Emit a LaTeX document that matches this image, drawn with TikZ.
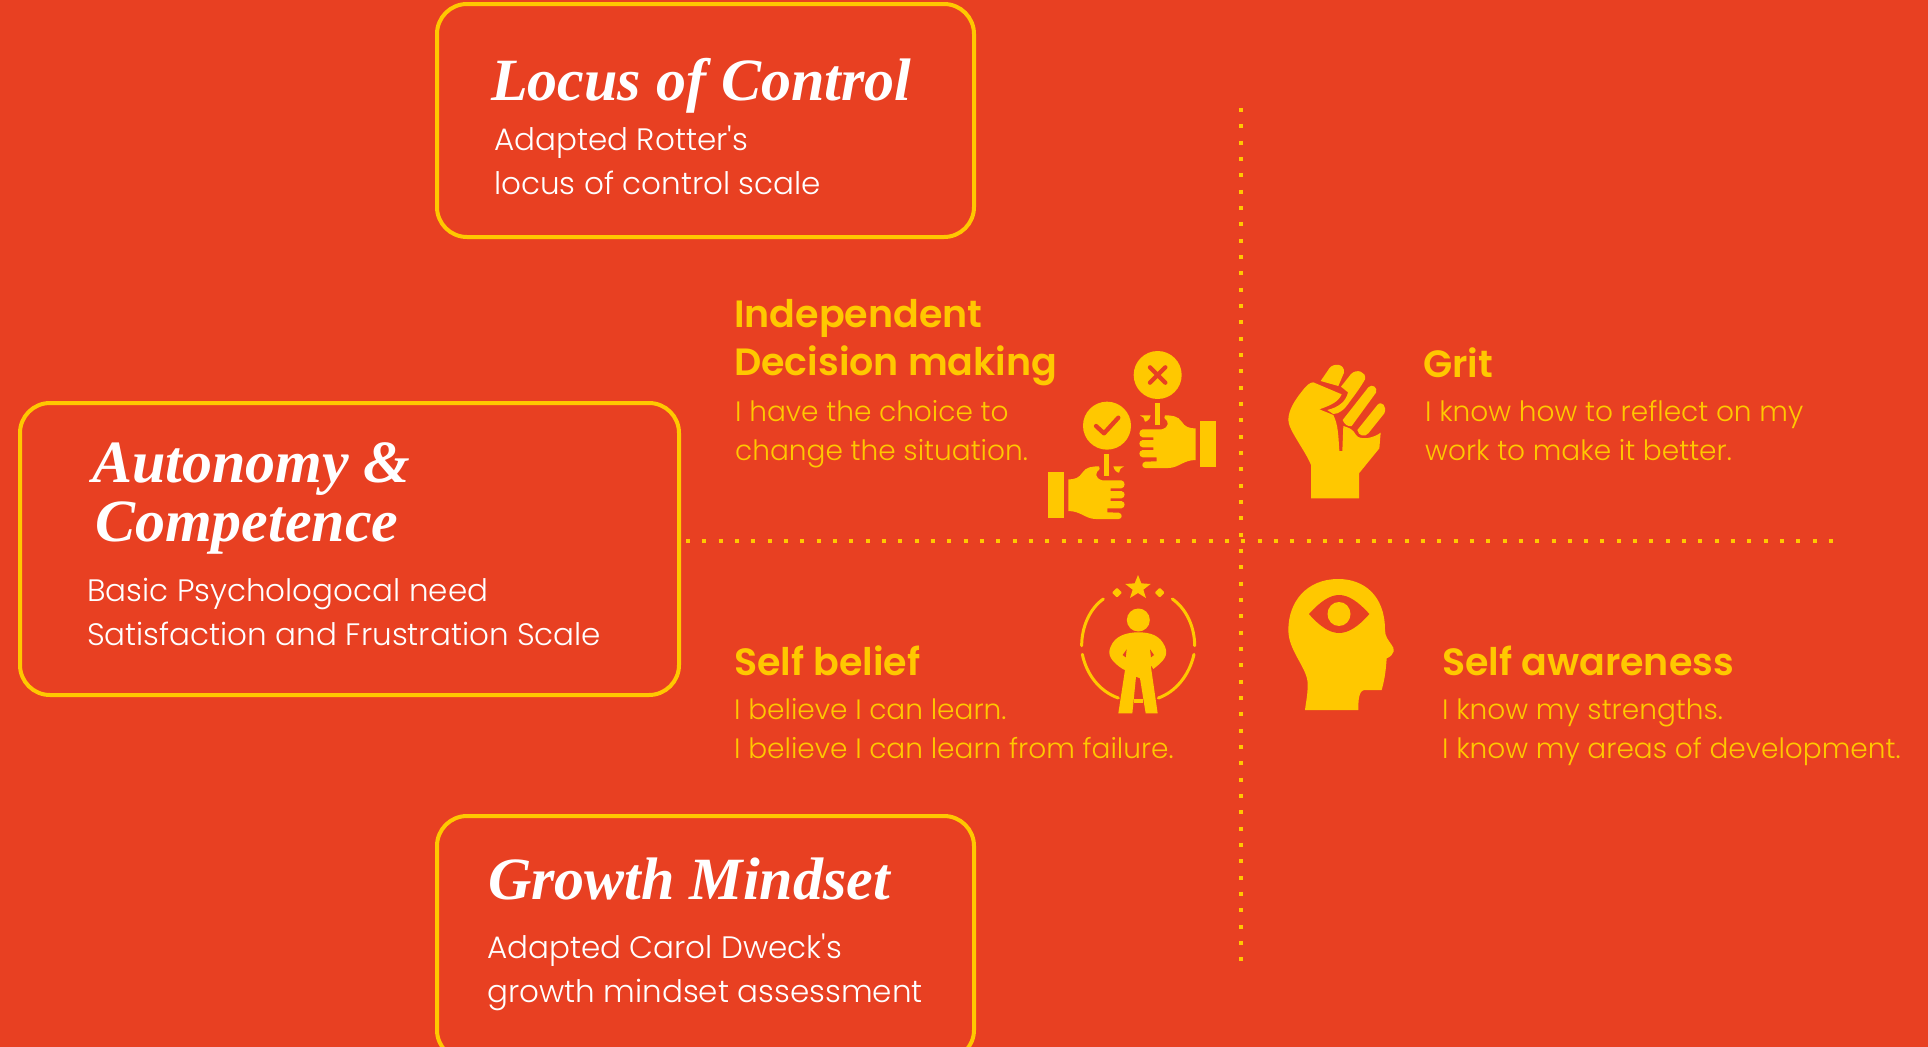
\documentclass[tikz,border=0pt]{standalone}
\usepackage{fontspec}
\setmainfont{Poppins}
\newfontfamily\plight{Poppins Light}
\newfontfamily\psemi{Poppins SemiBold}
\newfontfamily\ptitle{Liberation Serif Bold Italic}
\definecolor{bgred}{RGB}{232,64,34}
\definecolor{gold}{RGB}{255,200,0}
\tikzset{
  cardbox/.style={draw=gold,line width=4pt,rounded corners=30pt,inner sep=0pt},
  cardtitle/.style={anchor=base west,inner sep=0pt,text=white,font=\ptitle\fontsize{60}{60}\selectfont},
  cardtext/.style={anchor=base west,inner sep=0pt,text=white,font=\fontsize{31}{31}\selectfont\plight},
  headtext/.style={anchor=base west,inner sep=0pt,text=gold,font=\psemi\fontsize{38}{38}\selectfont},
  subtext/.style={anchor=base west,inner sep=0pt,text=gold,font=\plight\fontsize{28}{28}\selectfont},
  dotline/.style={draw=gold,line width=4pt,dash pattern=on 4pt off 12.33pt},
  zoomA/.style={shift={(#1)},x=.33333pt,y=-.33333pt},
}
\newcommand{\handicon}{%
  \fill[gold] (509,243) rectangle (557,381);
  \fill[gold] (497,265) .. controls (475,265) and (465,260) .. (455,245) .. controls (445,228) and (425,226) .. (405,226)
     -- (403,234) .. controls (418,245) and (418,262) .. (395,268) -- (338,268) .. controls (325,270) and (325,290) .. (338,292)
     -- (370,292) -- (370,300) -- (338,300) .. controls (325,302) and (325,320) .. (338,322) -- (370,322) -- (370,330)
     -- (338,330) .. controls (325,332) and (325,350) .. (338,352) -- (380,352) -- (380,364) -- (346,365)
     .. controls (334,367) and (334,384) .. (346,384) -- (415,384) .. controls (445,384) and (460,360) .. (497,360) -- cycle;
  \fill[gold] (375,190) rectangle (391,255);
  \fill[gold] (330,226) -- (362,226) .. controls (360,238) and (350,245) .. (345,245) .. controls (345,235) and (338,230) .. (330,226) -- cycle;
}
\begin{document}
\begin{tikzpicture}[x=1pt,y=-1pt]
\useasboundingbox (0,0) rectangle (1928,1047);
\fill[bgred] (0,0) rectangle (1928,1047);
\clip (0,0) rectangle (1928,1047);
% cards
\node[cardbox,minimum width=537pt,minimum height=233pt] (locus) at (705.5,120.5) {};
\node[cardbox,minimum width=659pt,minimum height=292pt] (auto) at (349.5,549) {};
\node[cardbox,minimum width=537pt,minimum height=244pt] (growth) at (705.5,938) {};
\node[cardtitle] (t1) at (491,100) {Locus of Control};
\node[cardtext] (t1a) at (494,150) {Adapted Rotter's};
\node[cardtext] (t1b) at (494,194) {locus of control scale};
\node[cardtitle] (t2) at (92,482) {Autonomy \&};
\node[cardtitle] (t2b) at (95,541) {Competence};
\node[cardtext] (t2c) at (87,601) {Basic Psychologocal need};
\node[cardtext] (t2d) at (87,645) {Satisfaction and Frustration Scale};
\node[cardtitle] (t3) at (488,899) {Growth Mindset};
\node[cardtext] (t3a) at (487,958) {Adapted Carol Dweck's};
\node[cardtext] (t3b) at (487,1002) {growth mindset assessment};
% dotted axes
\coordinate (vtop) at (1241,108); \coordinate (vbot) at (1241,965);
\coordinate (hl) at (686,541); \coordinate (hr) at (1842,541);
\draw[dotline] (vtop) -- (vbot);
\draw[dotline] (hl) -- (hr);
% quadrant text
\node[headtext] (q1) at (734,327) {Independent};
\node[headtext] (q1b) at (734,375) {Decision making};
\node[subtext] (q1c) at (735,421) {I have the choice to};
\node[subtext] (q1d) at (735,460) {change the situation.};
\node[headtext] (q2) at (1423,377) {Grit};
\node[subtext] (q2c) at (1425,421) {I know how to reflect on my};
\node[subtext] (q2d) at (1425,460) {work to make it better.};
\node[headtext] (q3) at (734,675) {Self belief};
\node[subtext] (q3c) at (734,719) {I believe I can learn.};
\node[subtext] (q3d) at (734,758) {I believe I can learn from failure.};
\node[headtext] (q4) at (1442,675) {Self awareness};
\node[subtext] (q4c) at (1442,719) {I know my strengths.};
\node[subtext] (q4d) at (1442,758) {I know my areas of development.};
% decision icon
\begin{scope}[zoomA={1030,340}]
  \handicon
  \fill[gold] (383,105) circle[radius=24pt];
  \draw[bgred,line width=4.3pt,line cap=round] (360,82) -- (406,128) (406,82) -- (360,128);
  \begin{scope}[x=-.33333pt,shift={(-204pt,51pt)}]
  \end{scope}
\end{scope}
\begin{scope}[shift={(1030,340)},x=-.33333pt,y=-.33333pt,shift={(-612,153)}]
  \handicon
\end{scope}
\begin{scope}[zoomA={1030,340}]
  \fill[gold] (231,257) circle[radius=24pt];
  \draw[bgred,line width=4.3pt,line cap=round,line join=round] (198,258) -- (222,280) -- (265,233);
\end{scope}
% fist icon
\begin{scope}[zoomA={1270,350}]
  \fill[gold] (123,445) -- (267,445) -- (267,370) -- (328,295) -- (332,248) .. controls (310,265) and (270,272) .. (258,255)
     .. controls (250,238) and (235,232) .. (220,228) -- (217,303) -- (208,303) .. controls (205,260) and (205,225) .. (190,195)
     -- (148,178) .. controls (185,165) and (205,155) .. (215,133) -- (130,97) .. controls (120,97) and (110,105) .. (95,125)
     .. controls (75,150) and (55,180) .. (55,210) .. controls (55,240) and (105,300) .. (123,345) -- cycle;
  \fill[gold] (152,93) -- (178,55) .. controls (190,38) and (225,40) .. (222,68) -- (205,108) -- cycle;
  \fill[gold] (213,110) -- (243,72) .. controls (260,55) and (290,65) .. (285,88) .. controls (270,115) and (250,140) .. (232,165) .. controls (222,180) and (205,192) .. (190,192) -- (172,180) .. controls (205,172) and (228,155) .. (234,127) -- cycle;
  \fill[gold] (218,210) -- (295,112) .. controls (305,100) and (325,112) .. (318,128) -- (245,228) .. controls (235,232) and (222,222) .. (218,210) -- cycle;
  \fill[gold] (262,240) -- (322,165) .. controls (335,150) and (352,170) .. (343,190) -- (295,250) .. controls (285,262) and (265,258) .. (262,240) -- cycle;
\end{scope}
% self belief icon
\begin{scope}[zoomA={1060,565}]
  \draw[gold,line width=3pt,line cap=round]
     (65,242) .. controls (65,185) and (90,130) .. (130,102)
     (337,102) .. controls (378,130) and (404,185) .. (404,242)
     (67,268) .. controls (80,330) and (120,380) .. (175,399)
     (402,268) .. controls (388,330) and (348,380) .. (295,399);
  \fill[gold] (222,402) rectangle (248,413);
  \fill[gold] (234,30) -- (244,55) -- (272,57) -- (250,74) -- (258,99) -- (234,84) -- (210,99) -- (218,74) -- (196,57) -- (224,55) -- cycle;
  \fill[gold,rounded corners=1pt] (171,68) -- (186,83) -- (171,98) -- (156,83) -- cycle;
  \fill[gold,rounded corners=1pt] (299,68) -- (314,83) -- (299,98) -- (284,83) -- cycle;
  \fill[gold] (235,165) circle[radius=11.5pt];
  \fill[gold] (235,202) .. controls (270,202) and (300,210) .. (315,245) .. controls (325,270) and (315,285) .. (280,312) -- (272,300)
     -- (293,445) -- (257,445) -- (240,340) -- (228,335) -- (217,445) -- (175,445) -- (195,315) -- (188,312)
     .. controls (155,290) and (140,270) .. (152,245) .. controls (165,212) and (200,202) .. (235,202) -- cycle;
  \fill[bgred] (200,253) -- (188,270) -- (197,277) -- cycle;
  \fill[bgred] (270,253) -- (282,270) -- (273,277) -- cycle;
\end{scope}
% head icon
\begin{scope}[zoomA={1270,565}]
  \fill[gold] (105,435) -- (265,435) .. controls (265,410) and (265,375) .. (285,375) -- (335,375) .. controls (345,340) and (348,310) .. (350,280)
     .. controls (375,270) and (375,250) .. (365,240) .. controls (355,225) and (345,215) .. (345,195)
     .. controls (345,90) and (280,42) .. (205,42) .. controls (110,42) and (55,110) .. (55,195)
     .. controls (55,260) and (115,310) .. (113,360) .. controls (113,390) and (108,410) .. (105,435) -- cycle;
  \fill[bgred] (117,147) .. controls (150,110) and (180,90) .. (207,90) .. controls (235,90) and (265,110) .. (298,147)
     .. controls (265,185) and (235,204) .. (207,204) .. controls (180,204) and (150,185) .. (117,147) -- cycle;
  \fill[gold] (207,147) ellipse[x radius=11.5pt,y radius=12pt];
\end{scope}
\end{tikzpicture}
\end{document}
